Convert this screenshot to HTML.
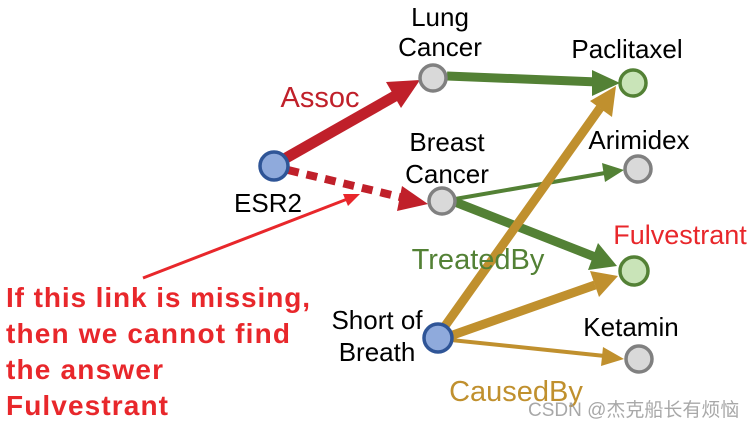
<!DOCTYPE html>
<html><head><meta charset="utf-8"><style>
html,body{margin:0;padding:0;background:#fff;}
svg{display:block;font-family:"Liberation Sans","Noto Sans CJK SC",sans-serif;}
</style></head><body>
<svg width="756" height="428" viewBox="0 0 756 428" xmlns="http://www.w3.org/2000/svg">
<g stroke-linecap="butt">
<line x1="447" y1="76" x2="598" y2="82" stroke="#538135" stroke-width="9"/>
<polygon points="620,83 592,70 592,96" fill="#538135"/>
<line x1="455" y1="199" x2="605" y2="173" stroke="#538135" stroke-width="4"/>
<polygon points="624,170 602,163 605,182" fill="#538135"/>
<line x1="455" y1="202" x2="595" y2="257" stroke="#538135" stroke-width="9"/>
<polygon points="617,266 598,243 588,270" fill="#538135"/>
<line x1="445" y1="326" x2="600" y2="108" stroke="#c0902e" stroke-width="9"/>
<polygon points="616,86 590,101 612,117" fill="#c0902e"/>
<line x1="450" y1="336" x2="595" y2="285" stroke="#c0902e" stroke-width="9"/>
<polygon points="618,276 590,271 599,297" fill="#c0902e"/>
<line x1="451" y1="340" x2="605" y2="356" stroke="#c0902e" stroke-width="4"/>
<polygon points="624,359 603,347 601,366" fill="#c0902e"/>
<line x1="286" y1="158" x2="395" y2="96" stroke="#c0202a" stroke-width="11"/>
<polygon points="420,80 386,82 401,108" fill="#c0202a"/>
<line x1="288" y1="170" x2="404" y2="198" stroke="#c0202a" stroke-width="8" stroke-dasharray="11,8"/>
<polygon points="428,204 402,186 397,211" fill="#c0202a"/>
<line x1="143" y1="278" x2="350" y2="198" stroke="#e8272b" stroke-width="3"/>
<polygon points="360,194 343,194 348,206" fill="#e8272b"/>
</g>
<g stroke-width="3.5">
<circle cx="433" cy="78" r="13" fill="#d9d9d9" stroke="#808080"/>
<circle cx="442" cy="201" r="13" fill="#d9d9d9" stroke="#808080"/>
<circle cx="274" cy="166" r="14" fill="#8faadc" stroke="#2f5597"/>
<circle cx="633" cy="83" r="13" fill="#c9e4b8" stroke="#538135"/>
<circle cx="638" cy="169" r="13" fill="#d9d9d9" stroke="#808080"/>
<circle cx="634" cy="271" r="14" fill="#c9e4b8" stroke="#538135"/>
<circle cx="438" cy="338" r="14" fill="#8faadc" stroke="#2f5597"/>
<circle cx="639" cy="359" r="13" fill="#d9d9d9" stroke="#808080"/>
</g>
<g font-size="26" fill="#000" text-anchor="middle">
<text x="440" y="26">Lung</text>
<text x="440" y="56">Cancer</text>
<text x="447" y="151">Breast</text>
<text x="447" y="183">Cancer</text>
<text x="627" y="58">Paclitaxel</text>
<text x="639" y="149">Arimidex</text>
<text x="268" y="212">ESR2</text>
<text x="377" y="329">Short of</text>
<text x="377" y="361">Breath</text>
<text x="631" y="336">Ketamin</text>
</g>
<text x="680" y="244" font-size="27" fill="#e8272b" text-anchor="middle">Fulvestrant</text>
<text x="320" y="107" font-size="29" fill="#c0202a" text-anchor="middle">Assoc</text>
<text x="478" y="269" font-size="29" fill="#538135" text-anchor="middle">TreatedBy</text>
<text x="516" y="401" font-size="29" fill="#c0902e" text-anchor="middle">CausedBy</text>
<g font-size="28" font-weight="bold" fill="#e8272b">
<text x="6" y="307" textLength="304">If this link is missing,</text>
<text x="6" y="343" textLength="284">then we cannot find</text>
<text x="6" y="379" textLength="157">the answer</text>
<text x="6" y="415" textLength="162">Fulvestrant</text>
</g>
<text x="528" y="416" font-size="19" fill="#9a9a9a" opacity="0.85">CSDN @杰克船长有烦恼</text>
</svg>
</body></html>
